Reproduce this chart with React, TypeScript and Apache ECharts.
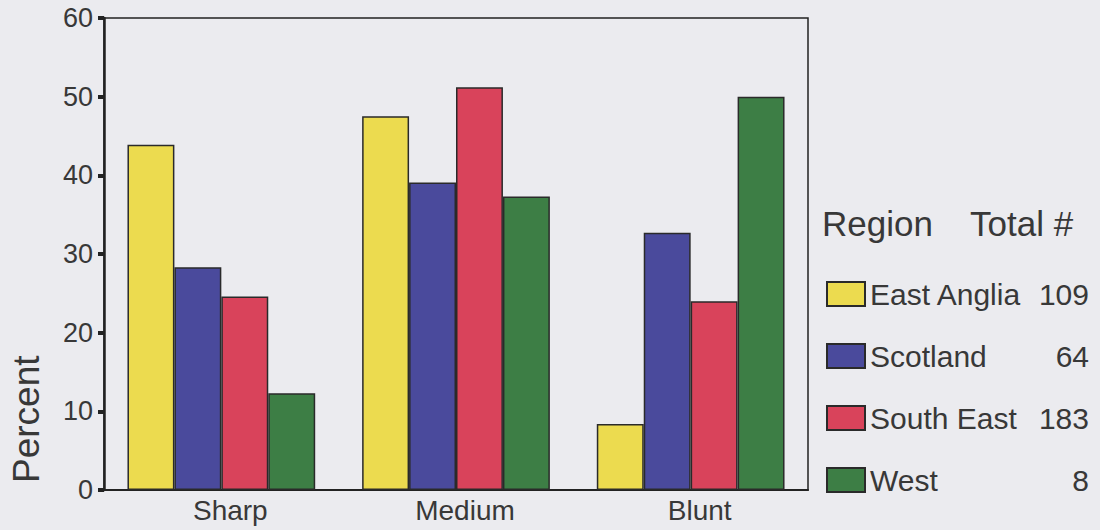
import React, { useEffect, useRef } from "react";
import * as echarts from "echarts";

const categories = ["Sharp", "Medium", "Blunt"];
const regions = ["East Anglia", "Scotland", "South East", "West"];
const totals = [109, 64, 183, 8];
const eastAnglia = [43.9, 47.5, 8.4];
const scotland = [28.3, 39.1, 32.7];
const southEast = [24.6, 51.2, 24.0];
const west = [12.3, 37.3, 50.0];
const colors = ["#ecdb4f", "#4a4a9c", "#d9435b", "#3d7e45"];
const yTicks = [0, 10, 20, 30, 40, 50, 60];

const FONT = "'Liberation Sans', Arial, sans-serif";

export default function App() {
  const ref = useRef<HTMLDivElement>(null);
  useEffect(() => {
    document.body.style.margin = "0";
    if (!ref.current) return;
    const chart = echarts.init(ref.current, undefined, { renderer: "svg" });
    const seriesData = [eastAnglia, scotland, southEast, west];
    const totalByName: Record<string, number> = {};
    regions.forEach((r, i) => (totalByName[r] = totals[i]));
    chart.setOption({
      animation: false,
      backgroundColor: "#ebebef",
      grid: {
        left: 104,
        right: 292,
        top: 18,
        bottom: 40,
        show: true,
        borderColor: "#222",
        borderWidth: 1.5,
        backgroundColor: "transparent",
      },
      xAxis: {
        type: "category",
        data: categories,
        axisLine: { lineStyle: { color: "#222", width: 2 } },
        axisTick: { alignWithLabel: true, length: 6, lineStyle: { color: "#333", width: 1.5 } },
        axisLabel: { fontFamily: FONT, fontSize: 28, color: "#383838", margin: 6, padding: [0, 0, 0, 18] },
      },
      yAxis: {
        type: "value",
        min: yTicks[0],
        max: yTicks[yTicks.length - 1],
        interval: 10,
        splitLine: { show: false },
        axisLine: { show: true, lineStyle: { color: "#222", width: 2.5 } },
        axisTick: { show: true, length: 6, lineStyle: { color: "#222", width: 4 } },
        axisLabel: { fontFamily: FONT, fontSize: 27, color: "#383838", margin: 11 },
      },
      legend: {
        orient: "vertical",
        left: 821,
        top: 274,
        icon: "rect",
        itemWidth: 38,
        itemHeight: 24,
        itemGap: 32,
        data: regions,
        formatter: (name: string) => `{n|${name}}{v|${totalByName[name]}}`,
        textStyle: {
          fontFamily: FONT,
          fontSize: 30,
          color: "#383838",
          rich: {
            n: { fontFamily: FONT, fontSize: 30, color: "#383838", width: 162 },
            v: { fontFamily: FONT, fontSize: 30, color: "#383838", width: 57, align: "right" },
          },
        },
      },
      graphic: [
        {
          type: "text",
          left: 822,
          top: 206,
          style: { text: "Region", fontFamily: FONT, fontSize: 35, fill: "#383838" },
        },
        {
          type: "text",
          left: 970,
          top: 206,
          style: { text: "Total #", fontFamily: FONT, fontSize: 35, fill: "#383838" },
        },
        {
          type: "text",
          x: 8,
          y: 483,
          rotation: Math.PI / 2,
          style: {
            text: "Percent",
            fontFamily: FONT,
            fontSize: 37,
            fill: "#383838",
            align: "left",
            verticalAlign: "top",
          },
        },
      ],
      series: regions.map((r, i) => ({
        name: r,
        type: "bar",
        data: seriesData[i],
        barGap: "0%",
        barCategoryGap: "20%",
        itemStyle: { color: colors[i], borderColor: "#2a2a2a", borderWidth: 1.5 },
      })),
    });
    return () => chart.dispose();
  }, []);
  return <div ref={ref} style={{ width: 1100, height: 530 }} />;
}
